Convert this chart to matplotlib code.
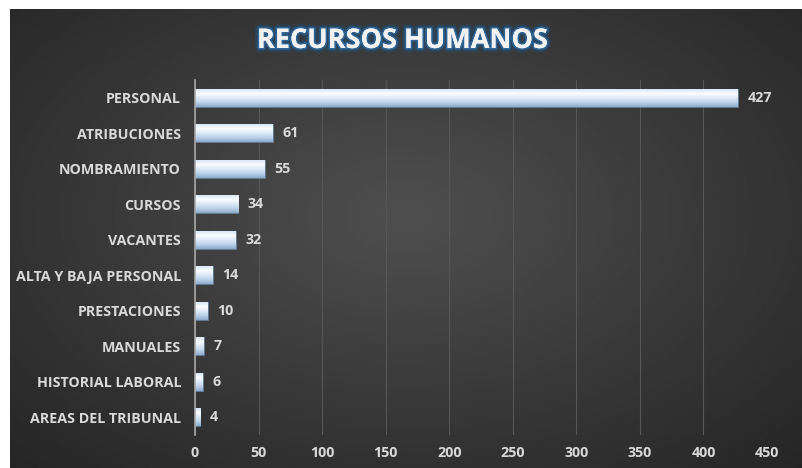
import numpy as np
import matplotlib.pyplot as plt
import matplotlib.patheffects as pe
from matplotlib.colors import LinearSegmentedColormap

categories = ['PERSONAL', 'ATRIBUCIONES', 'NOMBRAMIENTO', 'CURSOS', 'VACANTES',
              'ALTA Y BAJA PERSONAL', 'PRESTACIONES', 'MANUALES',
              'HISTORIAL LABORAL', 'AREAS DEL TRIBUNAL']
values = [427, 61, 55, 34, 32, 14, 10, 7, 6, 4]
xticks = [0, 50, 100, 150, 200, 250, 300, 350, 400, 450]

plt.rcParams['font.family'] = ['Open Sans', 'DejaVu Sans']
txt = '#d9d9d9'
fs = 10.3

fig = plt.figure(figsize=(8.02, 4.68), dpi=100)
fig.patch.set_facecolor('white')

# radial gradient background
bg = fig.add_axes([10 / 802, 0, 792 / 802, 459 / 468])
yy, xx = np.mgrid[0:1:300j, 0:1:500j]
r = np.sqrt(((xx - 0.5) / 0.75) ** 2 + ((yy - 0.45) / 0.8) ** 2)
bg.imshow(0.31 - 0.17 * np.clip(r, 0, 1), cmap='gray', vmin=0, vmax=1,
          aspect='auto', extent=[0, 1, 0, 1])
bg.set_axis_off()

ax = fig.add_axes([195 / 802, 1 - 435 / 468, 572 / 802, 355 / 468])
ax.patch.set_alpha(0)
y = np.arange(len(categories))
bars = ax.barh(y, values, height=0.5, color='#b7cde6', edgecolor='#5f7894',
               linewidth=0.6, zorder=3)

# bevelled look: vertical gradient clipped to each bar
grad = np.linspace(0, 1, 64).reshape(-1, 1)
cmap = LinearSegmentedColormap.from_list(
    'bev', ['#d8e6f5', '#fbfdff', '#dce9f6', '#bcd2ea', '#8eaacb'])
for b in bars:
    x0, y0 = b.get_x(), b.get_y()
    w, h = b.get_width(), b.get_height()
    im = ax.imshow(grad, cmap=cmap, aspect='auto', zorder=4,
                   extent=[x0, x0 + w, y0 + h, y0])
    im.set_clip_path(b)

ax.set_xlim(0, 450)
ax.set_ylim(len(categories) - 0.5, -0.5)

for yi, v in zip(y, values):
    ax.text(v + 7.5, yi, str(v), va='center', ha='left', color=txt,
            fontsize=fs, fontweight='bold', zorder=5)

ax.set_yticks(y)
ax.set_yticklabels(categories, fontsize=fs, fontweight='bold', color=txt)
ax.set_xticks(xticks)
ax.set_xticklabels([str(t) for t in xticks], fontsize=fs, fontweight='bold',
                   color=txt)
ax.tick_params(axis='y', length=0, pad=10)
ax.tick_params(axis='x', length=0, pad=8)
ax.xaxis.grid(True, color='#575757', linewidth=0.8, zorder=0)
ax.set_axisbelow(True)
for s in ['top', 'right', 'bottom']:
    ax.spines[s].set_visible(False)
ax.spines['left'].set_color('#a6a6a6')
ax.spines['left'].set_linewidth(1.2)
ax.spines['left'].set_zorder(6)

fig.text(0.502, 1 - 41 / 468, 'RECURSOS HUMANOS', ha='center', va='center',
         fontsize=19.5, fontweight='bold', color='#f2f2f2',
         path_effects=[pe.withStroke(linewidth=6, foreground='#1f4f7a', alpha=0.45),
                       pe.withStroke(linewidth=2.5, foreground='#2f6496'),
                       pe.Normal()])

fig.savefig('out.png', dpi=100)
